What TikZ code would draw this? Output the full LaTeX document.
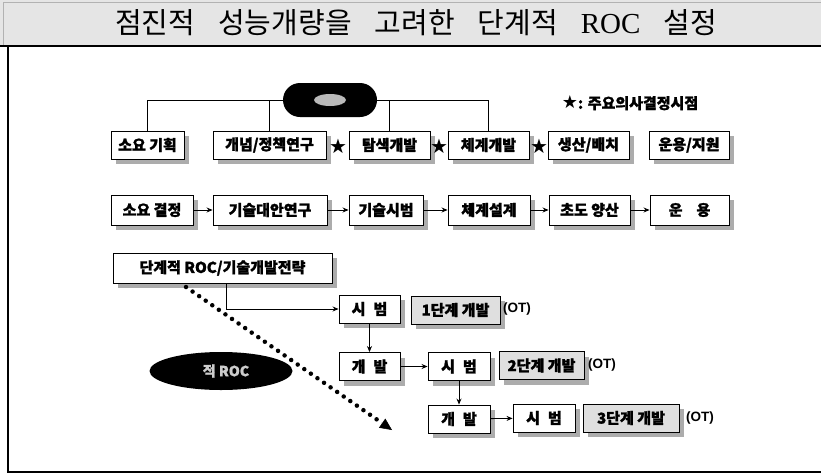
\documentclass[tikz,border=0pt]{standalone}
\usepackage{fontspec}
\setmainfont{Noto Sans CJK KR}
\newfontfamily\krheavy{Noto Sans CJK KR}[BoldFeatures={FakeBold=1.4}]
\newfontfamily\symfont{DejaVu Sans}
\newfontfamily\romfont{Liberation Serif}
\newfontfamily\otfont{Liberation Sans}
\usetikzlibrary{shadows,arrows.meta,shapes.geometric,calc}
\begin{document}
\begin{tikzpicture}[x=1pt,y=-1pt,
  shad/.style={drop shadow={shadow xshift=5pt,shadow yshift=-5pt,fill=gray!65,opacity=1}},
  box/.style={draw=black,line width=0.9pt,fill=white,inner sep=0pt,shad,
    font=\krheavy\bfseries\fontsize{15}{15}\selectfont},
  gbox/.style={box,fill=gray!25},
  rowa/.style={box,minimum height=28pt},
  rowb/.style={box,minimum height=30pt},
  low/.style={box,minimum height=28pt},
  conn/.style={line width=0.8pt},
  arr/.style={line width=0.8pt,-{Stealth[length=6pt,width=5pt]}},
  star/.style={font=\symfont\fontsize{20}{20}\selectfont,inner sep=0pt},
  ot/.style={font=\otfont\bfseries\fontsize{13.5}{14}\selectfont,inner sep=0pt,anchor=west}
]
\useasboundingbox (0,0) rectangle (821,474);
% title band and frame
\fill[gray!20] (0,0) rectangle (821,46);
\draw[gray!60,line width=0.6pt] (3,2) -- (821,2);
\draw[gray!60,line width=0.6pt] (3,2) -- (3,46);
\node[font=\fontsize{29}{29}\selectfont,inner sep=0pt] (title) at (416,23)
  {점진적\hspace{23pt}성능개량을\hspace{23pt}고려한\hspace{23pt}단계적\hspace{23pt}{\romfont ROC}\hspace{23pt}설정};
\draw[line width=1.3pt] (0,46) -- (821,46);
\draw[line width=1.3pt] (8,46) -- (8,472) -- (821,472);

% top pill
\node[fill=black,rounded corners=17pt,minimum width=94pt,minimum height=34pt,inner sep=0pt] (pill) at (330,100) {};
\fill[gray!55] (330,100) ellipse (16pt and 6pt);

% row 1
\node[rowa,minimum width=73pt] (a1) at (147.5,145) {소요 기획};
\node[rowa,minimum width=113pt] (a2) at (269.5,145) {개념/정책연구};
\node[rowa,minimum width=81pt] (a3) at (389.5,145) {탐색개발};
\node[rowa,minimum width=81pt] (a4) at (488.5,145) {체계개발};
\node[rowa,minimum width=81pt] (a5) at (588.5,145) {생산/배치};
\node[rowa,minimum width=80pt] (a6) at (689,145) {운용/지원};
\node[star] (s1) at (338,146) {★};
\node[star] (s2) at (439,146) {★};
\node[star] (s3) at (539,146) {★};
\node[font=\krheavy\bfseries\fontsize{15}{15}\selectfont,inner sep=0pt] (legend) at (630,103) {{\symfont\fontsize{18}{18}\selectfont ★}: 주요의사결정시점};

\draw[conn] (pill.west) -| (a1.north);
\draw[conn] (pill.east) -| (a4.north);
\draw[conn] (a2.north) -- (a2.north |- pill.west);
\draw[conn] (a3.north) -- (a3.north |- pill.east);

% row 2
\node[rowb,minimum width=82pt] (b1) at (152,210) {소요 결정};
\node[rowb,minimum width=114pt] (b2) at (270,210) {기술대안연구};
\node[rowb,minimum width=74pt] (b3) at (386,210) {기술시범};
\node[rowb,minimum width=82pt] (b4) at (489,210) {체계설계};
\node[rowb,minimum width=81pt] (b5) at (589.5,210) {초도 양산};
\node[rowb,minimum width=79pt] (b6) at (689.5,210) {운\hspace{14pt}용};
\draw[arr] (b1) -- (b2);
\draw[arr] (b2) -- (b3);
\draw[arr] (b3) -- (b4);
\draw[arr] (b4) -- (b5);
\draw[arr] (b5) -- (b6);

% strategy box
\node[box,minimum width=219pt,minimum height=30pt] (c0) at (222.5,268) {단계적 ROC/기술개발전략};

% black oval
\node[ellipse,fill=black,minimum width=143pt,minimum height=38pt,inner sep=0pt] (oval) at (221,371) {};
\node[font=\krheavy\bfseries\fontsize{14}{14}\selectfont,text=gray!40,inner sep=0pt] (ovaltext) at (226,371) {적 ROC};

% stage 1
\node[low,minimum width=61pt] (t1) at (369.5,309) {시\hspace{8pt}범};
\node[gbox,minimum width=89pt,minimum height=28pt] (g1) at (455.5,310) {1단계 개발};
\node[ot] (o1) at (503,309) {(OT)};
% stage 2
\node[low,minimum width=61pt] (d2) at (369.5,366.5) {개\hspace{8pt}발};
\node[low,minimum width=62pt] (t2) at (459,366.5) {시\hspace{8pt}범};
\node[gbox,minimum width=85pt,minimum height=28pt] (g2) at (541.5,365.5) {2단계 개발};
\node[ot] (o2) at (588,365.5) {(OT)};
% stage 3
\node[low,minimum width=62pt] (d3) at (459,419) {개\hspace{8pt}발};
\node[low,minimum width=62pt] (t3) at (544,418) {시\hspace{8pt}범};
\node[gbox,minimum width=96pt,minimum height=28pt] (g3) at (631,418) {3단계 개발};
\node[ot] (o3) at (686,418) {(OT)};

\coordinate (c0b) at (226,283);
\draw[arr] (c0b) |- (t1.west);
\draw[arr] (t1) -- (d2);
\draw[arr] (d2) -- (t2);
\draw[arr] (t2.south -| d3.north) -- (d3.north);
\draw[arr] (d3) -- (t3);

% dotted arrow
\coordinate (dstart) at (186,287);
\coordinate (dend) at (392,430);
\coordinate (dnear) at ($(dstart)!0.95!(dend)$);
\draw[line width=4.5pt,dash pattern=on 0pt off 8pt,line cap=round] (dstart) -- (dnear);
\draw[line width=0.5pt,-{Triangle[length=12pt,width=11pt]}] (dnear) -- (dend);
\end{tikzpicture}
\end{document}
